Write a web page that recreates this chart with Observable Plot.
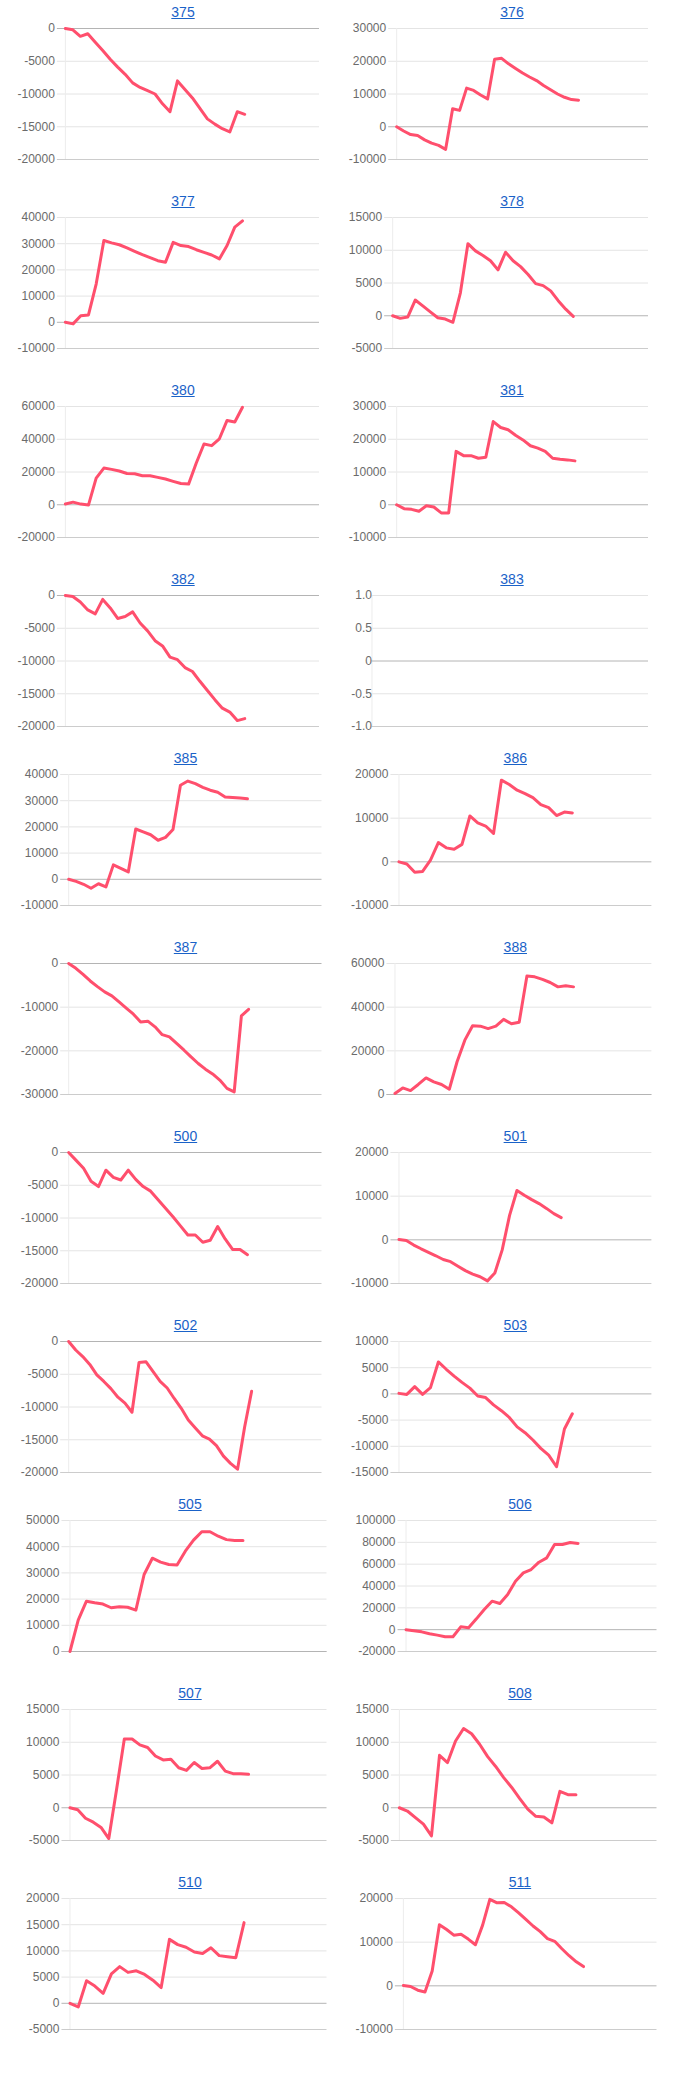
<!DOCTYPE html>
<html><head><meta charset="utf-8">
<script src="https://cdn.jsdelivr.net/npm/d3@7"></script>
<script src="https://cdn.jsdelivr.net/npm/@observablehq/plot@0.6"></script>
<style>
body{margin:0;background:#fff;font-family:"Liberation Sans",Arial,sans-serif;}
#page{position:relative;width:686px;height:2084px;overflow:hidden;background:#fff;}
.ttl{position:absolute;font-size:14px;line-height:16px;color:#1a62c8;text-decoration:underline;transform:translateX(-50%);white-space:nowrap;}
.chart{position:absolute;}
</style></head><body><div id="page"></div>
<script>
// ---- chart names ----
const chartIds = ["375","376","377","378","380","381","382","383","385","386","387","388","500","501","502","503","505","506","507","508","510","511"];

// ---- series values (cumulative, one value per step) ----
const s375 = [0,-200,-1200,-800,-2100,-3350,-4700,-5900,-7000,-8300,-9000,-9500,-10000,-11500,-12700,-8000,-9300,-10600,-12200,-13800,-14600,-15300,-15800,-12700,-13100];
const s376 = [0,-1300,-2400,-2700,-4000,-5000,-5700,-6900,5500,5000,11800,11100,9700,8500,20600,20900,19200,17800,16400,15200,14100,12600,11300,10000,9000,8300,8100];
const s377 = [0,-600,2500,2800,14600,31200,30300,29600,28400,27100,25800,24700,23500,22900,30500,29300,28900,27700,26700,25700,24200,29300,36300,38700];
const s378 = [0,-400,-200,2400,1500,600,-300,-500,-1000,3500,11000,9900,9200,8400,7000,9700,8400,7500,6300,4900,4600,3800,2300,1000,-100];
const s380 = [500,1600,400,-200,16300,22400,21600,20600,19100,18900,17700,17700,16700,15700,14300,13000,12600,25500,37100,36100,40300,51500,50500,59500];
const s381 = [0,-1200,-1400,-2000,-300,-700,-2500,-2500,16300,15000,15000,14200,14500,25400,23600,22900,21200,19800,18000,17300,16300,14200,13900,13700,13400];
const s382 = [0,-150,-1000,-2200,-2800,-600,-1900,-3500,-3200,-2500,-4200,-5400,-6900,-7700,-9400,-9800,-11000,-11600,-13100,-14500,-15900,-17200,-17800,-19100,-18800];
const s383 = [];
const s385 = [0,-800,-1900,-3400,-1700,-2900,5500,4200,2800,19200,18100,17000,14900,16000,19000,35900,37500,36500,35100,34000,33200,31400,31200,31000,30700];
const s386 = [0,-500,-2400,-2200,400,4400,3200,2900,4000,10500,8900,8200,6500,18700,17700,16400,15600,14700,13100,12400,10600,11400,11200];
const s387 = [0,-1100,-2500,-4000,-5300,-6500,-7400,-8800,-10200,-11600,-13400,-13200,-14500,-16300,-16800,-18300,-19800,-21400,-22900,-24200,-25300,-26700,-28600,-29400,-12000,-10500];
const s388 = [500,3000,1800,4600,7600,5800,4600,2400,15000,24900,31500,31300,30200,31300,34400,32400,33100,54300,53900,52700,51300,49300,49800,49300];
const s500 = [0,-1200,-2400,-4400,-5200,-2700,-3800,-4200,-2700,-4100,-5200,-5900,-7200,-8500,-9800,-11200,-12600,-12600,-13700,-13400,-11300,-13200,-14800,-14800,-15600];
const s501 = [100,-150,-1200,-2050,-2850,-3650,-4500,-5000,-6050,-7050,-7850,-8450,-9400,-7600,-2300,5600,11300,10200,9200,8300,7200,6000,5100];
const s502 = [0,-1300,-2300,-3500,-5100,-6100,-7200,-8500,-9400,-10800,-3200,-3100,-4600,-6100,-7100,-8700,-10200,-12000,-13200,-14400,-14900,-15900,-17500,-18600,-19500,-13100,-7600];
const s503 = [100,-100,1400,-100,1200,6100,4700,3400,2200,1100,-400,-700,-2100,-3200,-4500,-6300,-7400,-8800,-10400,-11700,-13900,-6700,-3800];
const s505 = [0,12000,19200,18600,18100,16700,17100,16900,15800,29400,35600,34100,33200,33000,38300,42500,45700,45700,44000,42700,42400,42400];
const s506 = [0,-900,-2000,-3800,-5000,-6500,-6500,2600,1700,9900,18500,26100,24000,32200,44400,52000,55100,61800,65800,78000,78000,79900,79000];
const s507 = [0,-300,-1600,-2200,-3000,-4700,2800,10500,10500,9600,9200,7900,7300,7400,6100,5700,6900,6000,6100,7100,5600,5200,5200,5100];
const s508 = [0,-500,-1500,-2500,-4300,8000,6900,10200,12100,11300,9700,7800,6300,4600,3100,1400,-200,-1300,-1400,-2300,2500,2000,2000];
const s510 = [0,-700,4300,3300,1900,5600,7000,5900,6200,5500,4400,3000,12200,11200,10700,9800,9500,10600,9100,8900,8700,15400];
const s511 = [100,-150,-1000,-1400,3400,14000,12900,11600,11800,10700,9400,13900,19800,19000,19100,18100,16700,15200,13700,12400,10800,10200,8500,6900,5500,4400];

// ---- y-axis tick values ----
const y375 = [-20000,-15000,-10000,-5000,0];
const y376 = [-10000,0,10000,20000,30000];
const y377 = [-10000,0,10000,20000,30000,40000];
const y378 = [-5000,0,5000,10000,15000];
const y380 = [-20000,0,20000,40000,60000];
const y381 = [-10000,0,10000,20000,30000];
const y382 = [-20000,-15000,-10000,-5000,0];
const y383 = [-1,-0.5,0,0.5,1];
const y385 = [-10000,0,10000,20000,30000,40000];
const y386 = [-10000,0,10000,20000];
const y387 = [-30000,-20000,-10000,0];
const y388 = [0,20000,40000,60000];
const y500 = [-20000,-15000,-10000,-5000,0];
const y501 = [-10000,0,10000,20000];
const y502 = [-20000,-15000,-10000,-5000,0];
const y503 = [-15000,-10000,-5000,0,5000,10000];
const y505 = [0,10000,20000,30000,40000,50000];
const y506 = [-20000,0,20000,40000,60000,80000,100000];
const y507 = [-5000,0,5000,10000,15000];
const y508 = [-5000,0,5000,10000,15000];
const y510 = [-5000,0,5000,10000,15000,20000];
const y511 = [-10000,0,10000,20000];

// ---- x-axis extent (in steps) of each chart's horizontal scale ----
const xSpan = [34.0,36.0,33.0,34.0,33.0,33.9,34.0,1,34.0,32.1,35.2,33.1,34.0,34.3,36.0,32.1,31.2,32.1,33.1,32.1,31.0,35.2];

const series = [s375,s376,s377,s378,s380,s381,s382,s383,s385,s386,s387,s388,s500,s501,s502,s503,s505,s506,s507,s508,s510,s511];
const tickSets = [y375,y376,y377,y378,y380,y381,y382,y383,y385,y386,y387,y388,y500,y501,y502,y503,y505,y506,y507,y508,y510,y511];

// ---- layout ----
const LABEL_LEFT = [[17,348.3],[20.3,350.6],[25.6,355]];
const RIGHT = [[319,648],[321.5,651.4],[326.5,656.5]];
const TITLE_X = [[183,512],[185.5,515.3],[190,520]];
const LINE_COLOR = "#ff4f6d";
const FONT = "'Liberation Sans', Arial, sans-serif";

const ctx = document.createElement("canvas").getContext("2d");
ctx.font = "12px 'Liberation Sans', Arial";
const fmt = (d, dec) => d === 0 ? "0" : (dec ? d.toFixed(1) : String(d));

const page = document.getElementById("page");
chartIds.forEach((id, i) => {
  const col = i % 2, row = Math.floor(i / 2), band = Math.floor(row / 4);
  const plotTop = 28 + 189 * row - 10 * band;
  const ticks = tickSets[i];
  const dec = ticks.some(t => !Number.isInteger(t));
  const maxW = Math.max(...ticks.map(t => ctx.measureText(fmt(t, dec)).width));
  const labLeft = LABEL_LEFT[band][col];
  const R = RIGHT[band][col];
  const data = series[i];
  const hasData = data.length > 0;
  const x0 = labLeft + maxW + (hasData ? 10.5 : 2.5);
  const frameL = hasData ? x0 - 8 : x0;
  const cl = col * 343;
  const mt = 10, mb = 10;
  const span = xSpan[i];
  const xDomain = [-(x0 - frameL) / (R - x0) * span, span];
  const ymin = d3.min(ticks), ymax = d3.max(ticks);

  const svg = Plot.plot({
    width: 343, height: 131 + mt + mb,
    marginLeft: frameL - cl, marginRight: cl + 343 - R, marginTop: mt, marginBottom: mb,
    style: {fontFamily: FONT, fontSize: "12px", color: "#6b6b6b", background: "transparent", overflow: "visible"},
    x: {domain: xDomain, axis: null},
    y: {domain: [ymin, ymax], axis: null},
    marks: [
      Plot.ruleY(ticks.filter(t => t !== 0 && t !== ymin), {stroke: "#e4e4e4"}),
      Plot.ruleY([ymin], {stroke: "#cccccc"}),
      Plot.ruleX([0], {stroke: "#ececec"}),
      Plot.ruleY([0], {stroke: "#b4b4b4"}),
      Plot.line(data, {x: (d, j) => j, y: d => d, stroke: LINE_COLOR, strokeWidth: 3, strokeLinejoin: "round", strokeLinecap: "round"}),
      Plot.axisY(ticks, {tickSize: 0, tickPadding: hasData ? 2.5 : 0, tickFormat: d => fmt(d, dec), fontSize: 12, fontFamily: FONT})
    ]
  });
  svg.classList.add("chart");
  svg.style.left = cl + "px";
  svg.style.top = (plotTop - mt) + "px";
  page.appendChild(svg);

  const t = document.createElement("div");
  t.className = "ttl";
  t.textContent = id;
  t.style.left = TITLE_X[band][col] + "px";
  t.style.top = (plotTop - 24.2) + "px";
  page.appendChild(t);
});
</script>
</body></html>
